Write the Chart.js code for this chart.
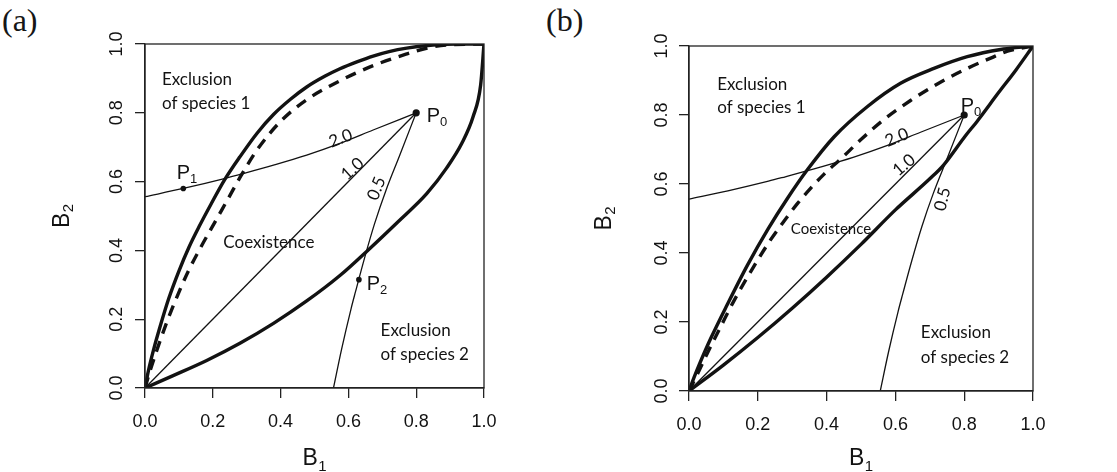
<!DOCTYPE html>
<html>
<head>
<meta charset="utf-8">
<script src="https://cdn.jsdelivr.net/npm/chart.js@4/dist/chart.umd.min.js"></script>
<style>
  html, body { margin: 0; padding: 0; background: #fff; }
  #wrap { position: relative; width: 1117px; height: 472px; overflow: hidden; background: #fff; }
  canvas { position: absolute; top: 0; }
  .tag { position: absolute; font-family: "Liberation Serif", "DejaVu Serif", serif; font-size: 32px; line-height: 32px; color: #161616; }
</style>
</head>
<body>
<div id="wrap">
  <div class="tag" style="left:2px;top:4px;">(a)</div>
  <div class="tag" style="left:546px;top:4px;">(b)</div>
  <canvas id="panelA" width="540" height="472" style="left:0px;"></canvas>
  <canvas id="panelB" width="577" height="472" style="left:540px;"></canvas>
</div>
<script>
// ---------------- data ----------------
const tickValues = [0, 0.2, 0.4, 0.6, 0.8, 1.0];
const tickLabels = ['0.0', '0.2', '0.4', '0.6', '0.8', '1.0'];

// panel (a)
const upperA = [[0,0],[0.01,0.05],[0.025,0.11],[0.045,0.18],[0.07,0.26],[0.1,0.34],[0.13,0.41],[0.16,0.47],[0.195,0.535],[0.236,0.607],[0.28,0.672],[0.33,0.74],[0.379,0.795],[0.43,0.84],[0.477,0.875],[0.53,0.906],[0.575,0.928],[0.625,0.948],[0.673,0.965],[0.72,0.978],[0.772,0.988],[0.85,0.997],[0.92,1.0],[1,1]];
const dashedA = [[0,0],[0.015,0.05],[0.035,0.11],[0.06,0.18],[0.09,0.255],[0.128,0.34],[0.165,0.41],[0.205,0.48],[0.245,0.55],[0.285,0.62],[0.329,0.69],[0.398,0.773],[0.477,0.838],[0.575,0.893],[0.673,0.937],[0.772,0.971],[0.841,0.99],[0.9,0.998],[1,1]];
const lowerA = [[0,0],[0.083,0.036],[0.182,0.08],[0.28,0.13],[0.379,0.188],[0.477,0.253],[0.575,0.327],[0.657,0.4],[0.745,0.482],[0.831,0.565],[0.89,0.64],[0.935,0.712],[0.968,0.789],[0.99,0.88],[1,1]];
const pointsA = [[0.8,0.8],[0.113,0.58],[0.631,0.315]];

// panel (b)
const upperB = [[0,0],[0.015,0.04],[0.03,0.077],[0.063,0.152],[0.111,0.25],[0.17,0.365],[0.23,0.47],[0.286,0.558],[0.344,0.641],[0.422,0.737],[0.518,0.824],[0.615,0.892],[0.712,0.935],[0.809,0.969],[0.906,0.99],[1,1]];
const dashedB = [[0,0],[0.025,0.05],[0.053,0.109],[0.092,0.186],[0.131,0.262],[0.189,0.362],[0.237,0.438],[0.276,0.492],[0.315,0.543],[0.354,0.588],[0.392,0.628],[0.446,0.677],[0.499,0.728],[0.567,0.787],[0.644,0.842],[0.722,0.89],[0.809,0.935],[0.877,0.965],[0.926,0.985],[1,1]];
const lowerB = [[0,0],[0.1,0.075],[0.2,0.155],[0.3,0.24],[0.4,0.33],[0.5,0.425],[0.6,0.525],[0.7,0.615],[0.74,0.655],[0.8,0.735],[0.84,0.785],[0.9,0.865],[0.95,0.93],[1,1]];
const pointsB = [[0.8,0.8]];

// thin trajectories from P0 (same in both panels)
const path20 = [[0,0.556],[0.113,0.58],[0.231,0.608],[0.28,0.621],[0.379,0.648],[0.477,0.677],[0.575,0.711],[0.673,0.75],[0.8,0.8]];
const path10 = [[0,0],[0.8,0.8]];
const path05 = [[0.556,0],[0.58,0.113],[0.608,0.231],[0.621,0.28],[0.648,0.379],[0.677,0.477],[0.711,0.575],[0.75,0.673],[0.8,0.8]];

// text labels
const regionTextA = ['Exclusion', 'of species 1', 'Coexistence', 'Exclusion', 'of species 2'];
const regionTextB = ['Exclusion', 'of species 1', 'Coexistence', 'Exclusion', 'of species 2'];
const pathText = ['2.0', '1.0', '0.5'];
const pointTextA = [['P','0'],['P','1'],['P','2']];
const pointTextB = [['P','0']];
const axisTitleX = ['B','1'];
const axisTitleY = ['B','2'];

// ---------------- rendering ----------------
const INK = '#121212';
const SANS = '"Liberation Sans", Arial, Helvetica, sans-serif';
const MYR = 'Lato, "Open Sans", "Noto Sans", sans-serif';

function lineDs(pts, w, dash) {
  return {
    data: pts.map(([x, y]) => ({x, y})),
    showLine: true, borderColor: INK, borderWidth: w, borderDash: dash,
    pointRadius: 0, pointHoverRadius: 0, fill: false,
    cubicInterpolationMode: 'monotone', borderCapStyle: 'butt', borderJoinStyle: 'round'
  };
}
function pointDs(pts, radii) {
  return {
    data: pts.map(([x, y]) => ({x, y})),
    showLine: false, pointRadius: radii, pointHoverRadius: radii,
    pointBackgroundColor: INK, pointBorderWidth: 0, borderColor: INK
  };
}

function drawText(ctx, text, sub, x, y, o) {
  ctx.save();
  ctx.translate(x, y);
  if (o.rot) ctx.rotate(o.rot * Math.PI / 180);
  ctx.fillStyle = INK;
  ctx.textBaseline = o.baseline || 'alphabetic';
  ctx.font = o.size + 'px ' + o.family;
  const w = ctx.measureText(text).width;
  let total = w;
  if (sub) {
    ctx.font = o.subSize + 'px ' + o.family;
    total += (o.subDx || 0) + ctx.measureText(sub).width;
  }
  let x0 = 0;
  if (o.align === 'center') x0 = -total / 2;
  ctx.textAlign = 'left';
  ctx.font = o.size + 'px ' + o.family;
  ctx.fillText(text, x0, 0);
  if (sub) {
    ctx.font = o.subSize + 'px ' + o.family;
    ctx.fillText(sub, x0 + w + (o.subDx || 0), o.subDy || 0);
  }
  ctx.restore();
}

const annotPlugin = {
  id: 'annot',
  afterDraw(chart, args, opts) {
    const {ctx, chartArea: a, scales: {x, y}} = chart;
    ctx.save();
    ctx.strokeStyle = '#222';
    ctx.lineWidth = 1.3;
    ctx.strokeRect(a.left, a.top, a.right - a.left, a.bottom - a.top);
    for (const L of opts.labels) {
      drawText(ctx, L.text, L.sub, x.getPixelForValue(L.x), y.getPixelForValue(L.y), L);
    }
    const t = opts.titles;
    drawText(ctx, axisTitleX[0], axisTitleX[1], (a.left + a.right) / 2, a.bottom + t.xOff,
      {family: SANS, size: 23, subSize: 15, subDy: 6, subDx: 0.5, align: 'center'});
    drawText(ctx, axisTitleY[0], axisTitleY[1], a.left - t.yOff, (a.top + a.bottom) / 2,
      {family: SANS, size: 23, subSize: 15, subDy: 6, subDx: 0.5, align: 'center', baseline: 'middle', rot: -90});
    ctx.restore();
  }
};

function makePanel(id, W, H, area, datasets, labels, titles, yPad) {
  const axisCommon = (isY) => ({
    type: 'linear', min: 0, max: 1,
    afterBuildTicks: s => { s.ticks = tickValues.map(v => ({value: v})); },
    ticks: {
      callback: (v, i) => tickLabels[i],
      font: {family: SANS, size: 18},
      color: INK,
      padding: isY ? yPad : 24,
      minRotation: isY ? 90 : 0,
      maxRotation: isY ? 90 : 0,
      crossAlign: 'center',
      autoSkip: false
    },
    grid: {drawOnChartArea: false, drawTicks: true, tickLength: 10, color: '#222', lineWidth: 1.3},
    border: {display: true, color: '#222', width: 1.3},
    afterFit: s => { if (isY) s.width = area.left; else s.height = H - area.bottom; }
  });
  return new Chart(document.getElementById(id), {
    type: 'scatter',
    data: {datasets},
    options: {
      responsive: false, animation: false, events: [],
      layout: {padding: {left: 0, right: W - area.right, top: area.top, bottom: 0}},
      plugins: {legend: {display: false}, tooltip: {enabled: false}, annot: {labels, titles}},
      scales: {x: axisCommon(false), y: axisCommon(true)}
    },
    plugins: [annotPlugin]
  });
}

const regionStyle = (size) => ({family: MYR, size});
const pLabel = (txt, x, y) => ({text: txt[0], sub: txt[1], x, y, family: SANS, size: 20, subSize: 13, subDy: 4, subDx: 0});
const pathLabel = (txt, x, y, rot, size) => ({text: txt, x, y, rot, family: MYR, size, align: 'center', baseline: 'middle'});

// panel (a)
makePanel('panelA', 540, 472, {left: 145, right: 484, top: 44, bottom: 388},
  [
    lineDs(upperA, 3.4, []),
    lineDs(dashedA, 3.4, [11, 8]),
    lineDs(lowerA, 3.4, []),
    lineDs(path20, 1.3, []),
    lineDs(path10, 1.3, []),
    lineDs(path05, 1.3, []),
    pointDs(pointsA, [3.6, 2.8, 2.8])
  ],
  [
    Object.assign({text: regionTextA[0], x: 0.05, y: 0.881}, regionStyle(17)),
    Object.assign({text: regionTextA[1], x: 0.05, y: 0.811}, regionStyle(17)),
    Object.assign({text: regionTextA[2], x: 0.231, y: 0.406}, regionStyle(17)),
    Object.assign({text: regionTextA[3], x: 0.695, y: 0.152}, regionStyle(17)),
    Object.assign({text: regionTextA[4], x: 0.695, y: 0.081}, regionStyle(17)),
    pathLabel(pathText[0], 0.577, 0.726, -21, 17),
    pathLabel(pathText[1], 0.612, 0.637, -42, 17),
    pathLabel(pathText[2], 0.683, 0.58, -68, 17),
    pLabel(pointTextA[0], 0.831, 0.774),
    pLabel(pointTextA[1], 0.0935, 0.607),
    pLabel(pointTextA[2], 0.654, 0.285)
  ],
  {xOff: 77, yOff: 82.5}, 5.5);

// panel (b)
makePanel('panelB', 577, 472, {left: 149, right: 493, top: 46, bottom: 391},
  [
    lineDs(upperB, 3.4, []),
    lineDs(dashedB, 3.4, [11, 8]),
    lineDs(lowerB, 3.4, []),
    lineDs(path20, 1.3, []),
    lineDs(path10, 1.3, []),
    lineDs(path05, 1.3, []),
    pointDs(pointsB, [3.6])
  ],
  [
    Object.assign({text: regionTextB[0], x: 0.082, y: 0.872}, regionStyle(17)),
    Object.assign({text: regionTextB[1], x: 0.082, y: 0.805}, regionStyle(17)),
    Object.assign({text: regionTextB[2], x: 0.296, y: 0.455}, regionStyle(15)),
    Object.assign({text: regionTextB[3], x: 0.674, y: 0.153}, regionStyle(17)),
    Object.assign({text: regionTextB[4], x: 0.674, y: 0.082}, regionStyle(17)),
    pathLabel(pathText[0], 0.604, 0.735, -22, 17),
    pathLabel(pathText[1], 0.625, 0.655, -40, 17),
    pathLabel(pathText[2], 0.737, 0.556, -76, 17),
    pLabel(pointTextB[0], 0.79, 0.81)
  ],
  {xOff: 74, yOff: 84}, 4.5);
</script>
</body>
</html>
